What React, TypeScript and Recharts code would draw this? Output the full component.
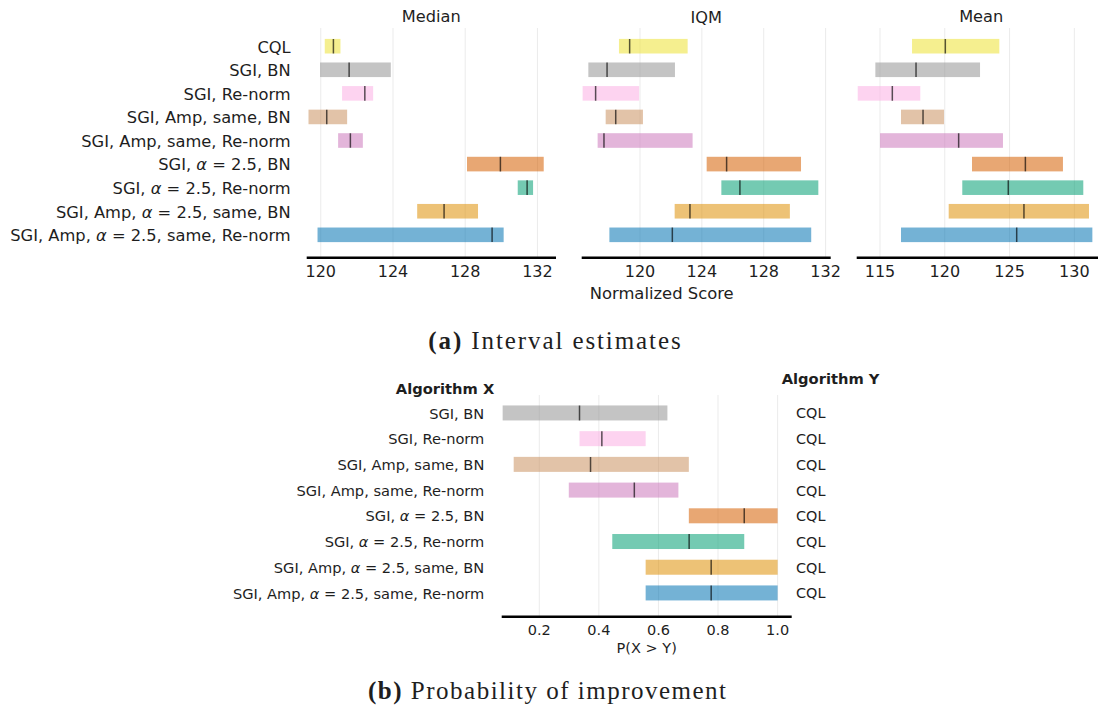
import React from 'react';
import { BarChart, Bar, XAxis, YAxis, CartesianGrid } from 'recharts';

// Algorithms, top to bottom
const algorithms = [
  'CQL',
  'SGI, BN',
  'SGI, Re-norm',
  'SGI, Amp, same, BN',
  'SGI, Amp, same, Re-norm',
  'SGI, α = 2.5, BN',
  'SGI, α = 2.5, Re-norm',
  'SGI, Amp, α = 2.5, same, BN',
  'SGI, Amp, α = 2.5, same, Re-norm',
];
const colors = ['#ece133', '#949494', '#fbafe4', '#ca9161', '#cc78bc', '#d55e00', '#029e73', '#de8f05', '#0173b2'];

// Median: confidence interval and point estimate
const medianLow = [120.22, 119.96, 121.18, 119.32, 120.96, 128.1, 130.91, 125.34, 119.82];
const medianHigh = [121.09, 123.88, 122.9, 121.46, 122.33, 132.35, 131.76, 128.71, 130.13];
const medianPoint = [120.7, 121.57, 122.44, 120.33, 121.64, 129.95, 131.43, 126.83, 129.49];

// IQM
const iqmLow = [118.64, 116.66, 116.29, 117.78, 117.26, 124.31, 125.26, 122.24, 118.02];
const iqmHigh = [123.08, 122.26, 119.94, 120.19, 123.4, 130.41, 131.53, 129.69, 131.07];
const iqmPoint = [119.33, 117.87, 117.13, 118.43, 117.67, 125.6, 126.46, 123.23, 122.09];

// Mean
const meanLow = [117.47, 114.64, 113.28, 116.62, 115.0, 122.1, 121.35, 120.3, 116.62];
const meanHigh = [124.21, 122.72, 118.11, 119.94, 124.49, 129.12, 130.69, 131.13, 131.39];
const meanPoint = [120.04, 117.78, 115.95, 118.32, 121.07, 126.22, 124.9, 126.11, 125.55];

const medianTicks = [120, 124, 128, 132];
const iqmTicks = [120, 124, 128, 132];
const meanTicks = [115, 120, 125, 130];

// Probability of improvement, X vs Y
const probX = algorithms.slice(1);
const probY = ['CQL', 'CQL', 'CQL', 'CQL', 'CQL', 'CQL', 'CQL', 'CQL'];
const probColors = colors.slice(1);
const probLow = [0.077, 0.335, 0.114, 0.299, 0.702, 0.445, 0.557, 0.557];
const probHigh = [0.63, 0.557, 0.702, 0.667, 1.0, 0.888, 1.0, 1.0];
const probPoint = [0.335, 0.41, 0.372, 0.519, 0.888, 0.703, 0.777, 0.777];
const probTicks = [0.2, 0.4, 0.6, 0.8, 1.0];

type Row = { name: string; lo: number; hi: number; mid: number; color: string };

const buildRows = (names: string[], lo: number[], hi: number[], mid: number[], cols: string[]): Row[] =>
  names.map((name, i) => ({ name, lo: lo[i], hi: hi[i], mid: mid[i], color: cols[i] }));

const SANS = 'DejaVu Sans';
const TEXT = '#1e1e1e';
const GRID = '#ebebeb';

const IntervalShape = (props: any) => {
  const { x, y, width, height, payload } = props;
  const left = Math.min(x, x + width);
  const w = Math.abs(width);
  const frac = (payload.mid - payload.lo) / (payload.hi - payload.lo);
  const mx = left + w * frac;
  return (
    <g>
      <rect x={left} y={y} width={w} height={height} fill={payload.color} fillOpacity={0.55} />
      <line x1={mx} x2={mx} y1={y} y2={y + height} stroke="#000" strokeOpacity={0.65} strokeWidth={1.5} />
    </g>
  );
};

const NameTick = (props: any) => {
  const { x, y, payload, fontSize, anchor, label } = props;
  const value = label !== undefined ? label : String(payload.value);
  const parts = value.split('α');
  return (
    <text x={x} y={y} dy={fontSize * 0.36} textAnchor={anchor} fontSize={fontSize} fontFamily={SANS} fill={TEXT}>
      {parts.map((p: string, i: number) => (
        <React.Fragment key={i}>
          {i > 0 && <tspan fontStyle="italic">α</tspan>}
          {p}
        </React.Fragment>
      ))}
    </text>
  );
};

type PanelProps = {
  rows: Row[];
  domain: [number, number];
  ticks: number[];
  left: number;
  width: number;
  marginLeft: number;
  marginRight: number;
  labelWidth?: number;
};

const IntervalPanel = ({ rows, domain, ticks, left, width, marginLeft, marginRight, labelWidth }: PanelProps) => (
  <div style={{ position: 'absolute', left, top: 0 }}>
    <BarChart
      width={width}
      height={300}
      data={rows}
      layout="vertical"
      margin={{ top: 28, right: marginRight, bottom: 0, left: marginLeft }}
    >
      <CartesianGrid
        horizontal={false}
        vertical
        stroke={GRID}
        strokeWidth={1}
        syncWithTicks
        verticalValues={ticks}
      />
      <XAxis
        type="number"
        domain={domain}
        ticks={ticks}
        interval={0}
        allowDataOverflow
        height={42.3}
        tickLine={false}
        axisLine={{ stroke: '#000', strokeWidth: 2.5 }}
        tick={{ fontSize: 16, fill: TEXT, fontFamily: SANS }}
      />
      <YAxis
        type="category"
        dataKey="name"
        hide={!labelWidth}
        width={labelWidth || 0}
        interval={0}
        tickLine={false}
        axisLine={false}
        tickSize={0}
        tickMargin={16}
        padding={{ top: 6.9, bottom: 10.6 }}
        tick={(p: any) => <NameTick {...p} fontSize={16.3} anchor="end" />}
      />
      <Bar dataKey={(d: Row) => [d.lo, d.hi]} barSize={14.6} shape={IntervalShape} isAnimationActive={false} />
    </BarChart>
  </div>
);

type TextProps = {
  text: React.ReactNode;
  x: number;
  cy: number;
  size: number;
  anchor: 'start' | 'middle' | 'end';
  weight?: number;
  family?: string;
  spacing?: number;
};

const PlacedText = ({ text, x, cy, size, anchor, weight = 400, family = SANS, spacing = 0 }: TextProps) => {
  const lh = size * 1.3;
  const boxW = 600;
  const left = anchor === 'start' ? x : anchor === 'middle' ? x - boxW / 2 : x - boxW;
  return (
    <div
      style={{
        position: 'absolute',
        left,
        top: cy - lh / 2,
        width: boxW,
        lineHeight: `${lh}px`,
        fontSize: size,
        fontFamily: family,
        fontWeight: weight,
        letterSpacing: spacing,
        color: TEXT,
        whiteSpace: 'nowrap',
        textAlign: anchor === 'start' ? 'left' : anchor === 'middle' ? 'center' : 'right',
      }}
    >
      {text}
    </div>
  );
};

export default function App() {
  const medianRows = buildRows(algorithms, medianLow, medianHigh, medianPoint, colors);
  const iqmRows = buildRows(algorithms, iqmLow, iqmHigh, iqmPoint, colors);
  const meanRows = buildRows(algorithms, meanLow, meanHigh, meanPoint, colors);
  const probRows = buildRows(probX, probLow, probHigh, probPoint, probColors);

  return (
    <div
      style={{
        position: 'absolute',
        left: 0,
        top: 0,
        width: 1098,
        height: 713,
        overflow: 'hidden',
        background: '#fff',
      }}
    >
      {/* (a) interval estimates */}
      <IntervalPanel
        rows={medianRows}
        domain={[119.22, 133.03]}
        ticks={medianTicks}
        left={0}
        width={560}
        marginLeft={0}
        marginRight={4}
        labelWidth={306.7}
      />
      <IntervalPanel
        rows={iqmRows}
        domain={[116.23, 132.33]}
        ticks={iqmTicks}
        left={560}
        width={280}
        marginLeft={21.7}
        marginRight={9.3}
      />
      <IntervalPanel
        rows={meanRows}
        domain={[113.2, 132.42]}
        ticks={meanTicks}
        left={830}
        width={290}
        marginLeft={26.7}
        marginRight={14.3}
      />
      <PlacedText text="Median" x={431.3} cy={16.7} size={16.2} anchor="middle" />
      <PlacedText text="IQM" x={706.2} cy={17.2} size={16.2} anchor="middle" />
      <PlacedText text="Mean" x={981.2} cy={16.7} size={16.2} anchor="middle" />
      <PlacedText text="Normalized Score" x={661.7} cy={293.3} size={16.4} anchor="middle" />
      <PlacedText
        text={
          <>
            <b>(a)</b> Interval estimates
          </>
        }
        x={428.3}
        cy={341.7}
        size={25}
        anchor="start"
        family="Liberation Serif"
        spacing={1.9}
      />

      {/* (b) probability of improvement */}
      <div style={{ position: 'absolute', left: 200, top: 360 }}>
        <BarChart
          width={660}
          height={300}
          data={probRows}
          layout="vertical"
          margin={{ top: 35, right: 0, bottom: 0, left: 0 }}
        >
          <CartesianGrid
            horizontal={false}
            vertical
            stroke={GRID}
            strokeWidth={1}
            syncWithTicks
            verticalValues={probTicks}
          />
          <XAxis
            type="number"
            domain={[0.0738, 1.0473]}
            ticks={probTicks}
            interval={0}
            allowDataOverflow
            height={43.3}
            tickLine={false}
            axisLine={{ stroke: '#000', strokeWidth: 2.5 }}
            tickFormatter={(v: number) => v.toFixed(1)}
            tick={{ fontSize: 14.5, fill: TEXT, fontFamily: SANS }}
          />
          <YAxis
            yAxisId="x"
            type="category"
            dataKey="name"
            width={301.7}
            interval={0}
            tickLine={false}
            axisLine={false}
            tickSize={0}
            tickMargin={17.4}
            padding={{ top: 5.45, bottom: 10.55 }}
            tick={(p: any) => <NameTick {...p} fontSize={14.6} anchor="end" />}
          />
          <YAxis
            yAxisId="y"
            orientation="right"
            type="category"
            dataKey="name"
            width={68.3}
            interval={0}
            tickLine={false}
            axisLine={false}
            tickSize={0}
            tickMargin={4.3}
            padding={{ top: 5.45, bottom: 10.55 }}
            tick={(p: any) => <NameTick {...p} label={probY[p.index]} fontSize={14.4} anchor="start" />}
          />
          <Bar
            yAxisId="x"
            dataKey={(d: Row) => [d.lo, d.hi]}
            barSize={15}
            shape={IntervalShape}
            isAnimationActive={false}
          />
        </BarChart>
      </div>
      <PlacedText text="Algorithm X" x={494.3} cy={388.3} size={14.7} weight={700} anchor="end" />
      <PlacedText text="Algorithm Y" x={781.7} cy={378.3} size={14.7} weight={700} anchor="start" />
      <PlacedText text="P(X > Y)" x={646.7} cy={648.3} size={14.5} anchor="middle" />
      <PlacedText
        text={
          <>
            <b>(b)</b> Probability of improvement
          </>
        }
        x={368}
        cy={691.7}
        size={25}
        anchor="start"
        family="Liberation Serif"
        spacing={1.5}
      />
    </div>
  );
}
